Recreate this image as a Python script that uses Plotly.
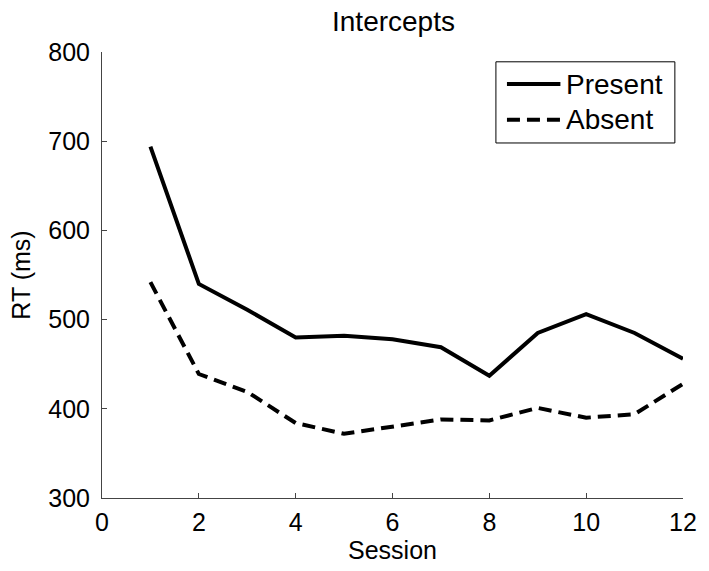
import plotly.graph_objects as go

sessions = [1, 2, 3, 4, 5, 6, 7, 8, 9, 10, 11, 12]
present = [694, 540, 511, 480, 482, 478, 469, 437, 485, 506, 485, 456]
absent = [542, 439, 419, 384, 372, 380, 388, 387, 401, 390, 394, 428]
series_names = ["Present", "Absent"]

x_ticks = [0, 2, 4, 6, 8, 10, 12]
y_ticks = [300, 400, 500, 600, 700, 800]

dash_absent = "13px,7px"

fig = go.Figure()
fig.add_trace(go.Scatter(x=sessions, y=present, mode="lines", name=series_names[0],
                         line=dict(color="black", width=4), showlegend=False))
fig.add_trace(go.Scatter(x=sessions, y=absent, mode="lines", name=series_names[1],
                         line=dict(color="black", width=4, dash=dash_absent),
                         showlegend=False))

font_family = "Liberation Sans, Arial, sans-serif"
axis_col = "#444"

# legend box drawn in paper coordinates (MATLAB-style legend)
lg_x0, lg_x1, lg_y0, lg_y1 = 0.678, 0.986, 0.796, 0.978
line_x0, line_x1, text_x = 0.697, 0.789, 0.795
row_y = [0.928, 0.848]
dashes = ["solid", dash_absent]

shapes = [dict(type="rect", xref="paper", yref="paper", x0=lg_x0, x1=lg_x1,
               y0=lg_y0, y1=lg_y1, line=dict(color="black", width=1),
               fillcolor="white", layer="above")]
annotations = []
for name, yy, dsh in zip(series_names, row_y, dashes):
    shapes.append(dict(type="line", xref="paper", yref="paper", x0=line_x0, x1=line_x1,
                       y0=yy, y1=yy, line=dict(color="black", width=4, dash=dsh),
                       layer="above"))
    annotations.append(dict(text=name, xref="paper", yref="paper", x=text_x, y=yy,
                            xanchor="left", yanchor="middle", showarrow=False,
                            font=dict(size=28, color="black", family=font_family)))

fig.update_layout(
    width=709, height=571,
    margin=dict(l=102, r=23, t=52, b=73),
    paper_bgcolor="white", plot_bgcolor="white",
    font=dict(family=font_family, color="black"),
    title=dict(text="Intercepts", x=0.555, xanchor="center", y=0.963, yanchor="middle",
               font=dict(size=28, family=font_family, color="black")),
    xaxis=dict(range=[0, 12], tickvals=x_ticks, ticks="inside", ticklen=5,
               tickcolor=axis_col, showline=True, linecolor=axis_col, linewidth=1,
               showgrid=False, zeroline=False, tickfont=dict(size=25),
               ticklabelstandoff=2,
               title=dict(text="Session", font=dict(size=25), standoff=4)),
    yaxis=dict(range=[300, 800], tickvals=y_ticks, ticks="inside", ticklen=5,
               tickcolor=axis_col, showline=True, linecolor=axis_col, linewidth=1,
               showgrid=False, zeroline=False, tickfont=dict(size=25),
               ticklabelstandoff=6,
               title=dict(text="RT (ms)", font=dict(size=25), standoff=10)),
    shapes=shapes,
    annotations=annotations,
    showlegend=False,
)

fig.write_html("out.html", config={"displayModeBar": False},
               post_script="document.body.style.margin='0';document.body.style.overflow='hidden';")
